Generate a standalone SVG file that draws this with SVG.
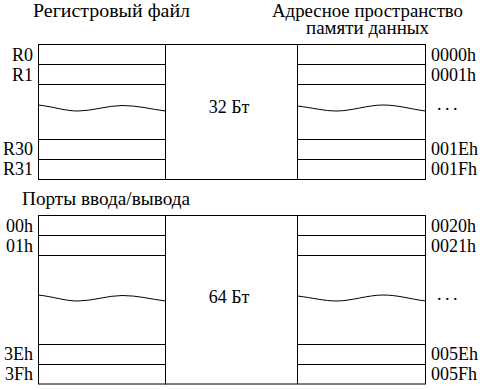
<svg xmlns="http://www.w3.org/2000/svg" width="480" height="390" viewBox="0 0 480 390">
<defs>
<style>
.b{fill:none;stroke:#000;stroke-width:1}
</style>
</defs>
<rect width="480" height="390" fill="#fff"/>
<g id="titles">
<text x="33" y="17" textLength="157" lengthAdjust="spacingAndGlyphs" font-family="Liberation Serif" font-size="18" style="font-family:'Liberation Serif',serif;font-size:18px">Регистровый файл</text>
<text x="272" y="17" textLength="191" lengthAdjust="spacingAndGlyphs" font-family="Liberation Serif" font-size="18" style="font-family:'Liberation Serif',serif;font-size:18px">Адресное пространство</text>
<text x="306" y="34" textLength="123" lengthAdjust="spacingAndGlyphs" font-family="Liberation Serif" font-size="18" style="font-family:'Liberation Serif',serif;font-size:18px">памяти данных</text>
<text x="22" y="205" textLength="168" lengthAdjust="spacingAndGlyphs" font-family="Liberation Serif" font-size="18" style="font-family:'Liberation Serif',serif;font-size:18px">Порты ввода/вывода</text>
</g>
<g id="regfile">
<rect class="b" x="38.5" y="44.5" width="127" height="135"/>
<path class="b" d="M38.5,64.5H165.5M38.5,84.5H165.5M38.5,139.5H165.5M38.5,159.5H165.5"/>
<path class="b" d="M38.5,105 C55,107 65,111 78,111 C92,111 108,105.5 122,105.5 C138,105.5 150,109 165.5,111"/>
<text x="33" y="61" text-anchor="end" font-family="Liberation Serif" font-size="18" style="font-family:'Liberation Serif',serif;font-size:18px">R0</text>
<text x="33" y="81" text-anchor="end" font-family="Liberation Serif" font-size="18" style="font-family:'Liberation Serif',serif;font-size:18px">R1</text>
<text x="33" y="155" text-anchor="end" font-family="Liberation Serif" font-size="18" style="font-family:'Liberation Serif',serif;font-size:18px">R30</text>
<text x="33" y="175" text-anchor="end" font-family="Liberation Serif" font-size="18" style="font-family:'Liberation Serif',serif;font-size:18px">R31</text>
</g>
<g id="mem32">
<rect class="b" x="165.5" y="44.5" width="260" height="135"/>
<path class="b" d="M297.5,44.5V179.5M297.5,64.5H425.5M297.5,84.5H425.5M297.5,139.5H425.5M297.5,159.5H425.5"/>
<path class="b" d="M297.5,106 C314,108 324,111 337,111 C351,111 368,105 383,105 C398,105 410,109 425.5,111"/>
<text x="229" y="113" text-anchor="middle" font-family="Liberation Serif" font-size="18" style="font-family:'Liberation Serif',serif;font-size:18px">32 Бт</text>
<text x="431" y="61" font-family="Liberation Serif" font-size="18" style="font-family:'Liberation Serif',serif;font-size:18px">0000h</text>
<text x="431" y="81" font-family="Liberation Serif" font-size="18" style="font-family:'Liberation Serif',serif;font-size:18px">0001h</text>
<text x="437" y="110" letter-spacing="3.5" font-family="Liberation Serif" font-size="18" style="font-family:'Liberation Serif',serif;font-size:18px">...</text>
<text x="431" y="155" font-family="Liberation Serif" font-size="18" style="font-family:'Liberation Serif',serif;font-size:18px">001Eh</text>
<text x="431" y="175" font-family="Liberation Serif" font-size="18" style="font-family:'Liberation Serif',serif;font-size:18px">001Fh</text>
</g>
<g id="io">
<rect class="b" x="38.5" y="215.5" width="127" height="168.5"/>
<path class="b" d="M38.5,235.5H165.5M38.5,255.5H165.5M38.5,344.5H165.5M38.5,364.5H165.5"/>
<path class="b" d="M38.5,295 C55,297 65,301 78,301 C92,301 108,295.5 122,295.5 C138,295.5 150,299 165.5,301"/>
<text x="33" y="232" text-anchor="end" font-family="Liberation Serif" font-size="18" style="font-family:'Liberation Serif',serif;font-size:18px">00h</text>
<text x="33" y="252" text-anchor="end" font-family="Liberation Serif" font-size="18" style="font-family:'Liberation Serif',serif;font-size:18px">01h</text>
<text x="33" y="360" text-anchor="end" font-family="Liberation Serif" font-size="18" style="font-family:'Liberation Serif',serif;font-size:18px">3Eh</text>
<text x="33" y="380" text-anchor="end" font-family="Liberation Serif" font-size="18" style="font-family:'Liberation Serif',serif;font-size:18px">3Fh</text>
</g>
<g id="mem64">
<rect class="b" x="165.5" y="215.5" width="260" height="168.5"/>
<path class="b" d="M297.5,215.5V384M297.5,235.5H425.5M297.5,255.5H425.5M297.5,344.5H425.5M297.5,364.5H425.5"/>
<path class="b" d="M297.5,296 C314,298 324,301 337,301 C351,301 368,295 383,295 C398,295 410,299 425.5,301"/>
<text x="229" y="303" text-anchor="middle" font-family="Liberation Serif" font-size="18" style="font-family:'Liberation Serif',serif;font-size:18px">64 Бт</text>
<text x="431" y="232" font-family="Liberation Serif" font-size="18" style="font-family:'Liberation Serif',serif;font-size:18px">0020h</text>
<text x="431" y="252" font-family="Liberation Serif" font-size="18" style="font-family:'Liberation Serif',serif;font-size:18px">0021h</text>
<text x="437" y="300" letter-spacing="3.5" font-family="Liberation Serif" font-size="18" style="font-family:'Liberation Serif',serif;font-size:18px">...</text>
<text x="431" y="360" font-family="Liberation Serif" font-size="18" style="font-family:'Liberation Serif',serif;font-size:18px">005Eh</text>
<text x="431" y="380" font-family="Liberation Serif" font-size="18" style="font-family:'Liberation Serif',serif;font-size:18px">005Fh</text>
</g>
</svg>
